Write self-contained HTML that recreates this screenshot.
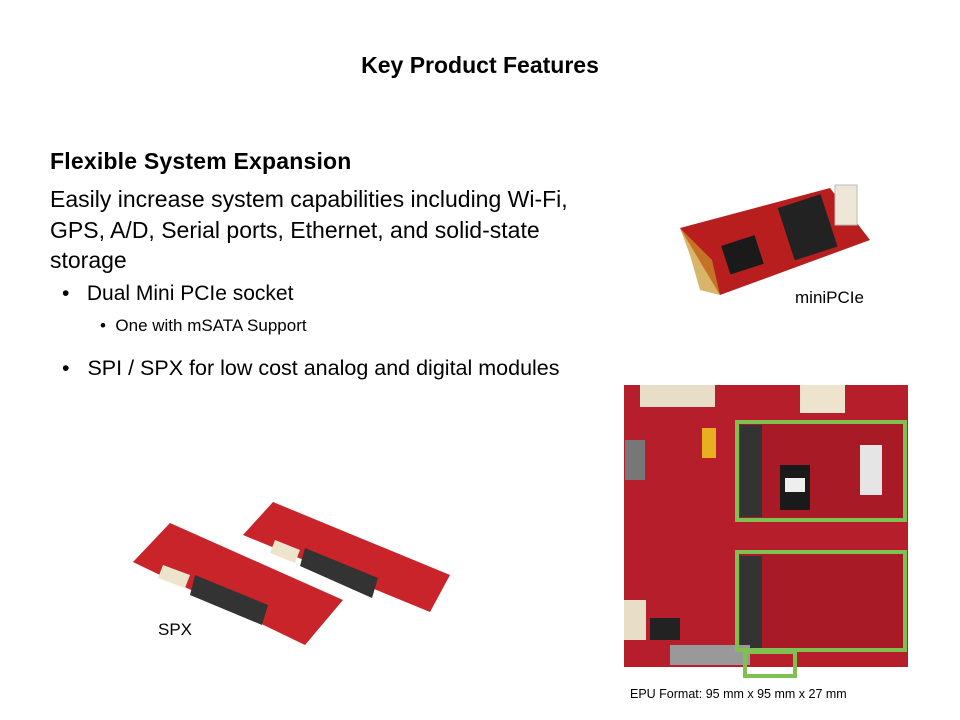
<!DOCTYPE html>
<html><head><meta charset="utf-8"><style>
body{margin:0;width:960px;height:720px;background:#fff;position:relative;overflow:hidden;font-family:"Liberation Sans",sans-serif;color:#000}
.t{position:absolute;white-space:nowrap}
</style></head><body>
<div class="t" style="left:0;width:960px;text-align:center;top:52px;font-size:23px;font-weight:bold">Key Product Features</div>
<div class="t" style="left:50px;top:148px;font-size:23px;font-weight:bold;letter-spacing:0.2px">Flexible System Expansion</div>
<div class="t" style="left:50px;top:184px;font-size:23px;line-height:30.5px">Easily increase system capabilities including Wi-Fi,<br>GPS, A/D, Serial ports, Ethernet, and solid-state<br>storage</div>
<div class="t" style="left:62px;top:282px;font-size:21px">•&nbsp;&nbsp;&nbsp;Dual Mini PCIe socket</div>
<div class="t" style="left:100px;top:316px;font-size:17px">•&nbsp;&nbsp;One with mSATA Support</div>
<div class="t" style="left:62px;top:356px;font-size:21.5px">•&nbsp;&nbsp;&nbsp;SPI / SPX for low cost analog and digital modules</div>
<div class="t" style="left:795px;top:288px;font-size:17px">miniPCIe</div>
<div class="t" style="left:158px;top:620px;font-size:17px">SPX</div>
<div class="t" style="left:630px;top:687px;font-size:12.5px">EPU Format: 95 mm x 95 mm x 27 mm</div>
<svg width="960" height="720" style="position:absolute;left:0;top:0">
<!-- miniPCIe -->
<g>
<polygon points="680,228 830,188 870,240 720,295" fill="#b81e1e"/>
<polygon points="680,228 690,255 700,290 720,295 712,260" fill="#c9962a" opacity=".7"/>
<rect x="785" y="200" width="45" height="55" fill="#222" transform="rotate(-18 807 227)"/>
<rect x="725" y="240" width="35" height="30" fill="#1a1a1a" transform="rotate(-18 742 255)"/>
<rect x="835" y="185" width="22" height="40" fill="#eee7d8" stroke="#bbb"/>
</g>
<!-- SPX -->
<g>
<polygon points="273,502 450,575 430,612 243,535" fill="#c8242a"/>
<polygon points="305,548 378,578 372,598 300,566" fill="#333"/>
<polygon points="275,540 300,550 295,563 270,553" fill="#eee3cc"/>
<polygon points="170,523 343,600 305,645 133,562" fill="#c8242a"/>
<polygon points="195,575 268,605 262,625 190,595" fill="#333"/>
<polygon points="163,565 190,575 185,588 158,578" fill="#eee3cc"/>
</g>
<!-- main board -->
<rect x="624" y="385" width="284" height="282" fill="#b51e2a"/>
<rect x="640" y="385" width="75" height="22" fill="#e8ddc6"/>
<rect x="800" y="385" width="45" height="28" fill="#eee3cc"/>
<rect x="625" y="440" width="20" height="40" fill="#777"/>
<rect x="702" y="428" width="14" height="30" fill="#e8b020"/>
<rect x="624" y="600" width="22" height="40" fill="#e8ddc6"/>
<rect x="650" y="618" width="30" height="22" fill="#222"/>
<rect x="735" y="420" width="171" height="100" fill="#a81a26"/>
<rect x="740" y="425" width="22" height="92" fill="#333"/>
<rect x="780" y="465" width="30" height="45" fill="#1a1a1a"/>
<rect x="785" y="478" width="20" height="14" fill="#eee"/>
<rect x="860" y="445" width="22" height="50" fill="#e5e5e5"/>
<rect x="735" y="551" width="171" height="101" fill="#a81a26"/>
<rect x="740" y="556" width="22" height="92" fill="#333"/>
<rect x="670" y="645" width="80" height="20" fill="#999"/>
<g fill="none" stroke="#7fc050" stroke-width="4">
<rect x="737" y="422" width="168" height="98"/>
<rect x="737" y="552" width="168" height="98"/>
<rect x="745" y="652" width="50" height="24"/>
</g>
</svg>
</body></html>
